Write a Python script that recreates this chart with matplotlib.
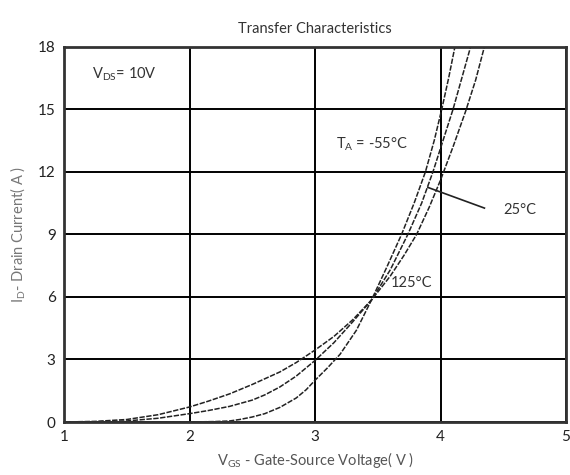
import matplotlib
matplotlib.use("Agg")
import matplotlib.pyplot as plt

plt.rcParams['font.family'] = ['Lato', 'DejaVu Sans']
plt.rcParams['mathtext.default'] = 'regular'

# -55 C
vgs_m55 = [1.0, 1.5, 1.8, 2.0, 2.2, 2.32, 2.4, 2.5, 2.6, 2.72, 2.85, 2.93, 3.0, 3.1, 3.2, 3.33, 3.45,
           3.57, 3.69, 3.79, 3.88, 3.95, 4.01, 4.065, 4.115]
id_m55 = [0.0, 0.0, 0.0, 0.0, 0.02, 0.05, 0.12, 0.24, 0.4, 0.7, 1.15, 1.55, 2.0, 2.6, 3.25, 4.4, 5.85,
          7.4, 9.0, 10.5, 12.0, 13.5, 15.0, 16.5, 18.0]
# 25 C
vgs_25 = [1.0, 1.25, 1.5, 1.75, 2.0, 2.15, 2.32, 2.5, 2.6, 2.72, 2.85, 3.0, 3.15, 3.3, 3.45,
          3.6, 3.74, 3.85, 3.94, 4.02, 4.10, 4.17, 4.24]
id_25 = [0.0, 0.01, 0.05, 0.18, 0.4, 0.55, 0.75, 1.05, 1.3, 1.68, 2.2, 2.95, 3.8, 4.8, 5.85,
         7.3, 9.0, 10.5, 12.0, 13.5, 15.0, 16.5, 18.0]
# 125 C
vgs_125 = [1.0, 1.25, 1.5, 1.75, 2.0, 2.15, 2.32, 2.5, 2.72, 2.85, 3.0, 3.15, 3.3, 3.45,
           3.6, 3.71, 3.81, 3.91, 4.0, 4.1, 4.2, 4.28, 4.35]
id_125 = [0.0, 0.03, 0.12, 0.35, 0.72, 1.0, 1.35, 1.8, 2.4, 2.85, 3.45, 4.1, 4.9, 5.85,
          7.0, 8.0, 9.0, 10.3, 11.6, 13.2, 14.9, 16.4, 18.0]

x_ticks = [1, 2, 3, 4, 5]
y_ticks = [0, 3, 6, 9, 12, 15, 18]

fig = plt.figure(figsize=(5.7, 4.75), dpi=100)
ax = fig.add_axes([64/570, 1-422/475, (566-64)/570, (422-46.7)/475])

ax.set_xlim(1, 5)
ax.set_ylim(0, 18)
ax.set_xticks(x_ticks)
ax.set_yticks(y_ticks)
ax.grid(True, color='black', lw=1.4)
ax.set_axisbelow(True)
for s in ax.spines.values():
    s.set_linewidth(2.0)
    s.set_color('#333333')
ax.tick_params(length=0, labelsize=11, colors='#222222', pad=6)

ls = (0, (3.5, 1.0))
for v, i in [(vgs_m55, id_m55), (vgs_25, id_25), (vgs_125, id_125)]:
    ax.plot(v, i, color='#222222', lw=1.1, linestyle=ls, clip_on=True)

ax.text(1.22, 16.7, r'V$_{DS}$= 10V', fontsize=10.5, color='#333333', va='center')
ax.text(3.17, 13.3, r'T$_A$ = -55°C', fontsize=10.5, color='#333333', va='center')
ax.text(3.6, 6.65, '125°C', fontsize=10.5, color='#333333', va='center')
ax.text(4.5, 10.15, '25°C', fontsize=10.5, color='#333333', va='center')
ax.plot([3.9, 4.35], [11.25, 10.26], color='#222222', lw=1.2)

ax.set_title('Transfer Characteristics', fontsize=10.5, color='#333333', pad=10)
ax.set_xlabel(r'V$_{GS}$ - Gate-Source Voltage( V )', fontsize=10.5, color='#555555', labelpad=4)
ax.set_ylabel(r'I$_D$- Drain Current( A )', fontsize=10.5, color='#777777', labelpad=8)

fig.savefig('out.png', dpi=100)
